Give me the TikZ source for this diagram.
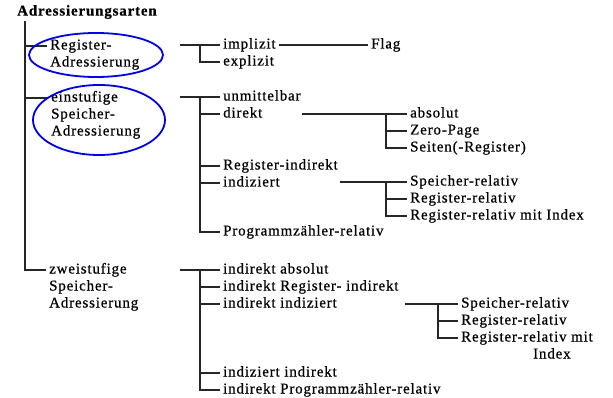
\documentclass[tikz,border=0pt]{standalone}
\usepackage{fontspec}
\setmainfont{Liberation Serif}[LetterSpace=5.5,FakeBold=0.6]
\usetikzlibrary{calc}

\begin{document}
\begin{tikzpicture}[
  x=1pt,y=-1pt,
  font=\fontsize{15}{17}\selectfont,
  item/.style={anchor=west,inner xsep=3pt,inner ysep=0pt,
               text height=10pt,text depth=3pt},
  head/.style={anchor=west,inner sep=0pt,
               font=\fontsize{15}{17}\selectfont\bfseries},
  tree/.style={line width=1.3pt,black!85},
  ring/.style={draw=blue!90!black,line width=1.8pt},
]
  \useasboundingbox (0,0) rectangle (613,398);

  % root and first level
  \node[head] (root) at (17,12) {Adressierungsarten};
  \coordinate (spine) at (25,21);

  \node[item] (reg)  at (47,46)  {Register-};
  \node[item] (reg2) at (47,63)  {Adressierung};
  \node[item] (ein)  at (48,98)  {einstufige};
  \node[item] (ein2) at (48,115) {Speicher-};
  \node[item] (ein3) at (48,132) {Adressierung};
  \node[item] (zw)   at (46,270) {zweistufige};
  \node[item] (zw2)  at (46,287) {Speicher-};
  \node[item] (zw3)  at (46,304) {Adressierung};

  \draw[tree] (spine) |- (zw.west);
  \draw[tree] (spine |- reg.west) -- (reg.west);
  \draw[tree] (spine |- ein.west) -- (ein.west);

  \draw[ring] (96,55) ellipse (67 and 22);
  \draw[ring] (99,120) ellipse (66 and 35);

  % Register-Adressierung
  \node[item] (impl) at (220,45) {implizit};
  \node[item] (expl) at (220,62) {explizit};
  \node[item] (flag) at (368,45) {Flag};
  \coordinate (ga)  at (180,45);
  \coordinate (gav) at (200,45);
  \draw[tree] (ga) -- (impl.west);
  \draw[tree] (gav) |- (expl.west);
  \draw[tree] (impl.east) -- (flag.west);

  % einstufige Speicher-Adressierung
  \node[item] (unm)  at (220,97)  {unmittelbar};
  \node[item] (dir)  at (220,114) {direkt};
  \node[item] (rind) at (220,166) {Register-indirekt};
  \node[item] (ind)  at (220,183) {indiziert};
  \node[item] (pzr)  at (220,232) {Programmzähler-relativ};
  \coordinate (gb)  at (180,97);
  \coordinate (gbv) at (200,97);
  \draw[tree] (gb) -- (unm.west);
  \draw[tree] (gbv) |- (pzr.west);
  \foreach \n in {dir,rind,ind}
    \draw[tree] (gbv |- \n.west) -- (\n.west);

  \node[item] (abs)  at (407,114) {absolut};
  \node[item] (zp)   at (407,131) {Zero-Page};
  \node[item] (seit) at (407,148) {Seiten(-Register)};
  \coordinate (gd)  at (302,114);
  \coordinate (gdv) at (386,114);
  \draw[tree] (gd) -- (abs.west);
  \draw[tree] (gdv) |- (seit.west);
  \draw[tree] (gdv |- zp.west) -- (zp.west);

  \node[item] (sr)   at (407,182) {Speicher-relativ};
  \node[item] (rr)   at (407,199) {Register-relativ};
  \node[item] (rri)  at (407,216) {Register-relativ mit Index};
  \coordinate (gi)  at (340,182);
  \coordinate (giv) at (386,182);
  \draw[tree] (gi) -- (sr.west);
  \draw[tree] (giv) |- (rri.west);
  \draw[tree] (giv |- rr.west) -- (rr.west);

  % zweistufige Speicher-Adressierung
  \node[item] (iabs) at (220,270) {indirekt absolut};
  \node[item] (irin) at (220,287) {indirekt Register- indirekt};
  \node[item] (iind) at (220,304) {indirekt indiziert};
  \node[item] (indi) at (220,373) {indiziert indirekt};
  \node[item] (ipzr) at (220,390) {indirekt Programmzähler-relativ};
  \coordinate (gz)  at (180,270);
  \coordinate (gzv) at (200,270);
  \draw[tree] (gz) -- (iabs.west);
  \draw[tree] (gzv) |- (ipzr.west);
  \foreach \n in {irin,iind,indi}
    \draw[tree] (gzv |- \n.west) -- (\n.west);

  \node[item] (zsr)  at (458,304) {Speicher-relativ};
  \node[item] (zrr)  at (458,321) {Register-relativ};
  \node[item] (zrri) at (458,338) {Register-relativ mit};
  \node[item] (zidx) at (530,355) {Index};
  \coordinate (gii)  at (405,304);
  \coordinate (giiv) at (438,304);
  \draw[tree] (gii) -- (zsr.west);
  \draw[tree] (giiv) |- (zrri.west);
  \draw[tree] (giiv |- zrr.west) -- (zrr.west);
\end{tikzpicture}
\end{document}
